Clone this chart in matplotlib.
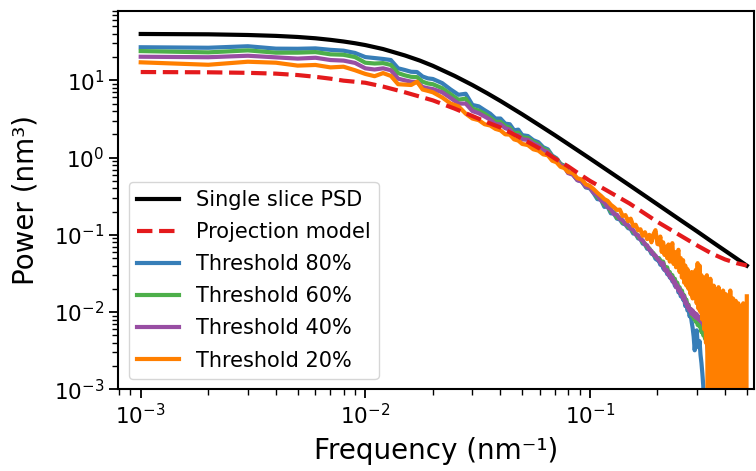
import numpy as np
import matplotlib.pyplot as plt

# --- smooth curves ---
slice_freq = [0.001, 0.002, 0.003, 0.004, 0.005, 0.006, 0.007, 0.008, 0.009, 0.01,
              0.012, 0.015, 0.0175, 0.02, 0.025, 0.03, 0.035, 0.04, 0.05, 0.06,
              0.07, 0.08, 0.1, 0.12, 0.15, 0.2, 0.25, 0.3, 0.35, 0.4, 0.45, 0.5]
slice_psd = [39.8, 39.4, 38.6, 37.6, 36.4, 35.0, 33.4, 31.8, 30.2, 28.6,
             25.4, 21.0, 18.0, 15.4, 11.4, 8.68, 6.77, 5.40, 3.63, 2.59,
             1.94, 1.50, 0.974, 0.681, 0.439, 0.248, 0.159, 0.111, 0.0813, 0.0623, 0.0493, 0.0399]

model_freq = [0.001, 0.002, 0.003, 0.004, 0.005, 0.006, 0.007, 0.008, 0.01, 0.012,
              0.015, 0.02, 0.025, 0.03, 0.035, 0.04, 0.05, 0.06, 0.07, 0.08,
              0.09, 0.1, 0.12, 0.15, 0.2, 0.25, 0.3, 0.35, 0.4, 0.45, 0.5]
model_psd = [12.8, 12.7, 12.5, 12.2, 11.7, 11.1, 10.5, 9.9, 9.3, 8.3,
             7.0, 5.5, 4.3, 3.45, 2.85, 2.45, 1.75, 1.3, 0.97, 0.77,
             0.61, 0.50, 0.37, 0.255, 0.147, 0.100, 0.073, 0.057, 0.048, 0.043, 0.040]

# --- thresholded PSDs (shared frequency grid) ---
freq = [0.001, 0.002, 0.003, 0.004, 0.005, 0.006, 0.007, 0.008, 0.009, 0.010,
        0.011, 0.012, 0.013, 0.014, 0.015, 0.016, 0.017, 0.018, 0.019, 0.020,
        0.022, 0.024, 0.026, 0.028, 0.030, 0.032, 0.034, 0.036, 0.038, 0.040,
        0.042, 0.044, 0.046, 0.048, 0.050, 0.053, 0.056, 0.059, 0.062, 0.065,
        0.068, 0.071, 0.074, 0.077, 0.080, 0.084, 0.088, 0.092, 0.096, 0.100,
        0.104, 0.108, 0.112, 0.116, 0.120, 0.124, 0.128, 0.132, 0.136, 0.140,
        0.144, 0.148, 0.152, 0.156, 0.160, 0.164, 0.168, 0.172, 0.176, 0.180,
        0.184, 0.188, 0.192, 0.196, 0.200,
        0.203, 0.206, 0.209, 0.212, 0.215, 0.218, 0.221, 0.224, 0.227, 0.230,
        0.233, 0.236, 0.239, 0.242, 0.245, 0.248, 0.251, 0.254, 0.257, 0.260,
        0.263, 0.266, 0.269, 0.272, 0.275, 0.278, 0.281, 0.284, 0.287, 0.290,
        0.293, 0.296, 0.299, 0.302, 0.305, 0.308, 0.311, 0.314, 0.317, 0.320,
        0.323, 0.326, 0.329, 0.332,
        0.335, 0.338, 0.341, 0.344, 0.347, 0.350, 0.353, 0.356, 0.359, 0.362,
        0.365, 0.368, 0.371, 0.374, 0.377, 0.380, 0.383, 0.386, 0.389, 0.392,
        0.395, 0.398, 0.401, 0.404, 0.407, 0.410, 0.413, 0.416, 0.419, 0.422,
        0.425, 0.428, 0.431, 0.434, 0.437, 0.440, 0.443, 0.446, 0.449, 0.452,
        0.455, 0.458, 0.461, 0.464, 0.467, 0.470, 0.473, 0.476, 0.479, 0.482,
        0.485, 0.488, 0.491, 0.494, 0.497, 0.500]

thr80 = [26.8, 26.4, 27.6, 25.7, 25.6, 25.9, 24.8, 24.2, 22.6, 20.0,
         19.4, 18.9, 18.3, 14.3, 13.6, 12.9, 12.8, 11.2, 10.6, 10.4,
         9.2, 7.6, 6.5, 6.7, 4.8, 4.6, 4.1, 3.7, 3.2, 3.2,
         2.75, 2.7, 2.25, 2.3, 1.95, 1.9, 1.68, 1.58, 1.36, 1.28,
         1.06, 0.98, 0.83, 0.78, 0.64, 0.61, 0.51, 0.49, 0.41, 0.4,
         0.345, 0.29, 0.285, 0.23, 0.232, 0.19, 0.188, 0.162, 0.158, 0.14,
         0.136, 0.122, 0.119, 0.104, 0.103, 0.09, 0.088, 0.077, 0.075, 0.066,
         0.065, 0.057, 0.056, 0.049, 0.047,
         0.046, 0.041, 0.043, 0.037, 0.035, 0.036, 0.031, 0.033, 0.028, 0.029,
         0.025, 0.027, 0.022, 0.021, 0.023, 0.018, 0.019, 0.016, 0.017, 0.0145,
         0.015, 0.012, 0.013, 0.0105, 0.011, 0.0088, 0.0095, 0.0075, 0.0062, 0.0048,
         0.0032, 0.0045, 0.0058, 0.004, 0.0035, 0.0042, 0.0028, 0.0022, 0.0016, 0.0011,
         0.0004, 0.0002, 0.00015, 0.0001,
         0.0004, 0.0002, 0.0006, 0.0001, 0.0003, 0.0002, 0.0005, 0.0001, 0.0002, 0.0004,
         0.0001, 0.0003, 0.0002, 0.0001, 0.0005, 0.0002, 0.0001, 0.0003, 0.0002, 0.0004,
         0.0001, 0.0002, 0.0003, 0.0001, 0.0002, 0.0004, 0.0009, 0.004, 0.012, 0.0105,
         0.0006, 0.0002, 0.0003, 0.0001, 0.0004, 0.0002, 0.0001, 0.0003, 0.0002, 0.0005,
         0.0001, 0.0002, 0.0004, 0.0002, 0.0001, 0.0003, 0.0002, 0.0006, 0.0001, 0.0003,
         0.0002, 0.0004, 0.0001, 0.0002, 0.0003, 0.0001]

thr60 = [23.9, 23.0, 24.4, 22.8, 22.8, 23.2, 21.7, 21.4, 20.0, 16.9,
         16.5, 16.7, 15.8, 12.4, 11.6, 11.1, 11.0, 9.6, 9.1, 8.9,
         7.9, 6.6, 5.6, 5.8, 4.3, 4.05, 3.7, 3.3, 2.9, 2.9,
         2.55, 2.45, 2.05, 2.1, 1.82, 1.79, 1.6, 1.49, 1.3, 1.23,
         1.03, 0.96, 0.82, 0.78, 0.65, 0.61, 0.52, 0.5, 0.42, 0.41,
         0.37, 0.305, 0.29, 0.245, 0.238, 0.2, 0.196, 0.166, 0.165, 0.143,
         0.141, 0.126, 0.124, 0.108, 0.104, 0.093, 0.091, 0.08, 0.077, 0.069,
         0.067, 0.06, 0.058, 0.052, 0.05,
         0.05, 0.047, 0.044, 0.045, 0.039, 0.037, 0.038, 0.032, 0.033, 0.029,
         0.03, 0.026, 0.027, 0.023, 0.024, 0.02, 0.021, 0.018, 0.019, 0.016,
         0.0165, 0.014, 0.0145, 0.012, 0.0125, 0.0105, 0.011, 0.009, 0.0095, 0.0082,
         0.0087, 0.0075, 0.008, 0.0068, 0.0072, 0.0065, 0.0066, 0.0055, 0.006, 0.005,
         0.0052, 0.0045, 0.0048, 0.004,
         0.0038, 0.0042, 0.0034, 0.0031, 0.0036, 0.0028, 0.0026, 0.0022, 0.0007, 0.0002,
         0.0003, 0.0001, 0.0004, 0.0002, 0.0001, 0.0003, 0.0002, 0.0005, 0.0001, 0.0002,
         0.0003, 0.0001, 0.0004, 0.0002, 0.0001, 0.0003, 0.0002, 0.0001, 0.0004, 0.0002,
         0.0003, 0.0001, 0.0005, 0.0009, 0.011, 0.0095, 0.012, 0.0008, 0.0002, 0.0003,
         0.0001, 0.0004, 0.0002, 0.0005, 0.011, 0.01, 0.0004, 0.0002, 0.0001, 0.0003,
         0.0002, 0.0004, 0.0001, 0.0003, 0.0002, 0.0001]

thr40 = [20.2, 19.9, 20.8, 19.8, 19.1, 19.6, 18.3, 18.0, 16.8, 14.3,
         13.8, 14.3, 13.5, 10.5, 10.0, 9.6, 9.5, 8.2, 7.9, 7.7,
         7.0, 5.9, 5.0, 5.0, 4.0, 3.75, 3.4, 3.1, 2.7, 2.7,
         2.4, 2.3, 1.93, 1.95, 1.72, 1.7, 1.52, 1.43, 1.24, 1.18,
         1.0, 0.93, 0.8, 0.76, 0.63, 0.6, 0.51, 0.49, 0.42, 0.41,
         0.35, 0.325, 0.28, 0.262, 0.228, 0.215, 0.186, 0.182, 0.16, 0.155,
         0.137, 0.134, 0.12, 0.116, 0.101, 0.099, 0.087, 0.085, 0.075, 0.073,
         0.064, 0.062, 0.055, 0.054, 0.049,
         0.047, 0.044, 0.041, 0.043, 0.036, 0.034, 0.035, 0.03, 0.031, 0.027,
         0.028, 0.024, 0.025, 0.021, 0.022, 0.019, 0.02, 0.017, 0.0175, 0.015,
         0.016, 0.013, 0.0135, 0.0115, 0.012, 0.0105, 0.011, 0.0095, 0.0105, 0.009,
         0.0098, 0.0085, 0.0094, 0.0082, 0.0088, 0.0078, 0.0085, 0.0074, 0.008, 0.0068,
         0.0075, 0.0062, 0.0055, 0.004,
         0.0032, 0.0026, 0.0015, 0.0008, 0.0003, 0.0004, 0.0002, 0.0001, 0.0003, 0.0002,
         0.0001, 0.0004, 0.0002, 0.0001, 0.0003, 0.0002, 0.0005, 0.0001, 0.0002, 0.0003,
         0.0001, 0.0004, 0.0002, 0.0001, 0.0003, 0.0002, 0.0001, 0.0004, 0.0002, 0.0003,
         0.0001, 0.0002, 0.0004, 0.0001, 0.0003, 0.0002, 0.0001, 0.0005, 0.0002, 0.0003,
         0.0001, 0.0004, 0.0002, 0.0001, 0.0003, 0.0002, 0.0004, 0.0001, 0.0002, 0.0003,
         0.0001, 0.0002, 0.0004, 0.0001, 0.0003, 0.0002]

thr20 = [17.1, 15.9, 17.4, 16.9, 15.5, 15.8, 14.7, 15.0, 13.5, 12.1,
         11.3, 12.4, 11.4, 8.9, 8.8, 8.7, 9.6, 7.6, 7.3, 7.0,
         6.0, 5.0, 4.6, 3.7, 3.2, 3.05, 2.7, 2.6, 2.35, 2.25,
         2.0, 1.98, 1.72, 1.66, 1.5, 1.45, 1.28, 1.23, 1.1, 1.07,
         0.91, 0.87, 0.76, 0.73, 0.65, 0.63, 0.54, 0.52, 0.45, 0.43,
         0.39, 0.35, 0.32, 0.29, 0.275, 0.245, 0.228, 0.21, 0.212, 0.175,
         0.18, 0.15, 0.162, 0.13, 0.135, 0.114, 0.118, 0.097, 0.108, 0.088,
         0.1, 0.08, 0.102, 0.115, 0.076,
         0.075, 0.095, 0.06, 0.08, 0.055, 0.07, 0.05, 0.075, 0.045, 0.065,
         0.078, 0.042, 0.06, 0.038, 0.055, 0.064, 0.033, 0.05, 0.028, 0.047,
         0.024, 0.04, 0.022, 0.036, 0.02, 0.03, 0.017, 0.033, 0.015, 0.028,
         0.016, 0.035, 0.013, 0.043, 0.011, 0.04, 0.01, 0.03, 0.008, 0.025,
         0.006, 0.028, 0.004, 0.03,
         0.0003, 0.025, 0.0005, 0.027, 0.0002, 0.018, 0.0004, 0.022, 0.001, 0.02,
         0.0003, 0.016, 0.0006, 0.021, 0.0002, 0.018, 0.0008, 0.015, 0.0003, 0.019,
         0.0005, 0.014, 0.0002, 0.017, 0.0004, 0.013, 0.0003, 0.016, 0.0006, 0.019,
         0.0002, 0.012, 0.0004, 0.015, 0.0003, 0.011, 0.0005, 0.014, 0.0002, 0.012,
         0.0004, 0.013, 0.0003, 0.010, 0.0006, 0.012, 0.0002, 0.011, 0.0004, 0.013,
         0.0003, 0.010, 0.0005, 0.012, 0.0003, 0.016]

thresholds = [("Threshold 80%", thr80, "#377eb8"),
              ("Threshold 60%", thr60, "#4daf4a"),
              ("Threshold 40%", thr40, "#984ea3"),
              ("Threshold 20%", thr20, "#ff7f00")]

for name, vals, _ in thresholds:
    assert len(vals) == len(freq), (name, len(vals), len(freq))

fig = plt.figure(figsize=(7.56, 4.71), dpi=100)
ax = fig.add_axes([0.1567, 0.1734, 0.8406, 0.8042])

thr_lines = []
for name, vals, color in thresholds:
    line, = ax.plot(freq, vals, color=color, lw=3, label=name)
    thr_lines.append(line)

black, = ax.plot(slice_freq, slice_psd, color="black", lw=3, label="Single slice PSD")
red, = ax.plot(model_freq, model_psd, color="#e41a1c", lw=3, ls="--", label="Projection model")

ax.set_xscale("log")
ax.set_yscale("log")
ax.set_xlim(7.96e-4, 0.538)
ax.set_ylim(1e-3, 80)

ax.set_xlabel("Frequency (nm\u207b\u00b9)", fontsize=20, labelpad=6)
ax.set_ylabel("Power (nm\u00b3)", fontsize=20)
ax.yaxis.set_label_coords(-0.124, 0.5)
ax.tick_params(which="major", labelsize=15.5, length=6.5, width=1.3)
ax.tick_params(which="minor", length=4, width=1.0)
for sp in ax.spines.values():
    sp.set_linewidth(1.5)

ax.legend(handles=[black, red] + thr_lines, loc="lower left", fontsize=15,
          labelspacing=0.58)

fig.savefig("out.png", dpi=100)
